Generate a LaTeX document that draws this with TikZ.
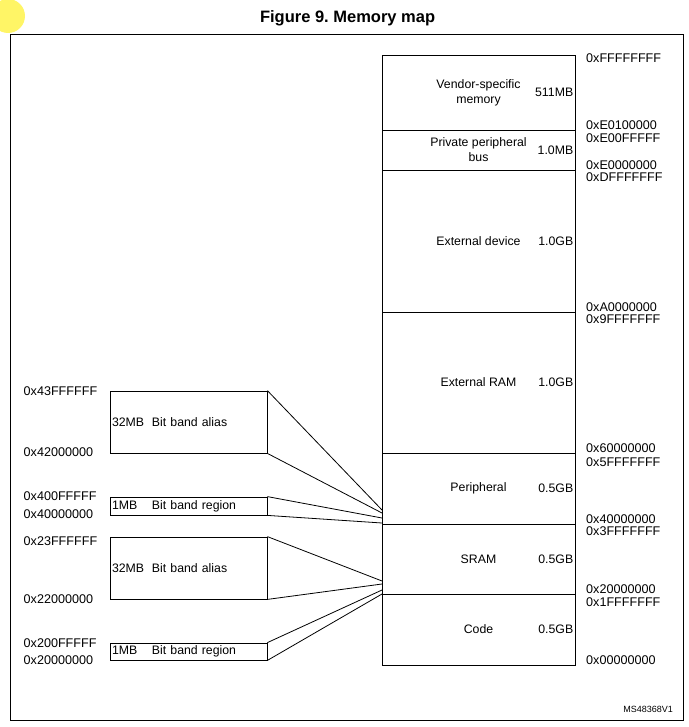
\documentclass[tikz,border=0pt]{standalone}
\usepackage{fontspec}
\setmainfont{Liberation Sans}
\usetikzlibrary{positioning}
\definecolor{HiliteYellow}{rgb}{1.0, 0.96, 0.4}
\frenchspacing

\tikzset{
  memseg/.style={draw, line width=0.8pt, minimum width=193pt, inner sep=0pt},
  seglabel/.style={font=\fontsize{12.3}{15}\selectfont, align=center, inner sep=0pt},
  segsize/.style={font=\fontsize{12.3}{15}\selectfont, anchor=east, inner sep=0pt},
  addr/.style={font=\fontsize{12.6}{15}\selectfont, anchor=west, inner sep=0pt,
               text height=9pt, text depth=0pt},
  bbbox/.style={draw, line width=0.8pt, minimum width=157pt, inner xsep=2pt, inner ysep=0pt,
                text width=153pt, align=left, font=\fontsize{12.3}{15}\selectfont},
  fanline/.style={line width=0.8pt},
}
\newcommand{\memblock}[5]{% name, top, bottom, label, size
  \node[memseg, minimum height={#3-#2}] (#1) at (478.5,{(#2+#3)/2}) {};
  \node[seglabel] (#1-label) at (#1.center) {#4};
  \node[segsize] (#1-size) at ([xshift=-2pt]#1.east) {#5};
}
\newcommand{\bbtext}[2]{\makebox[40pt][l]{#1}#2}% size, text

\begin{document}
\begin{tikzpicture}[x=1pt, y=-1pt]
\useasboundingbox (0,0) rectangle (688,727);
\fill[HiliteYellow] (8,16) circle (17);

\node[font=\fontsize{16.5}{18}\selectfont\bfseries] (title) at (347.6,18) {Figure 9. Memory map};
\draw[line width=0.8pt] (10,34) rectangle (683,720);

% memory column
\memblock{vendor}{55}{130}{Vendor-specific\\memory}{511MB}
\memblock{ppb}{130}{170}{Private peripheral\\bus}{1.0MB}
\memblock{extdev}{170}{312}{External device}{1.0GB}
\memblock{extram}{312}{453}{External RAM}{1.0GB}
\memblock{periph}{453}{524}{Peripheral}{0.5GB}
\memblock{sram}{524}{594}{SRAM}{0.5GB}
\memblock{code}{594}{665}{Code}{0.5GB}

\foreach \txt/\y [count=\i] in {0xFFFFFFFF/58, 0xE0100000/125, 0xE00FFFFF/138,
    0xE0000000/165, 0xDFFFFFFF/177, 0xA0000000/307, 0x9FFFFFFF/319,
    0x60000000/448, 0x5FFFFFFF/462, 0x40000000/519, 0x3FFFFFFF/531,
    0x20000000/589, 0x1FFFFFFF/602, 0x00000000/660}
  \node[addr] (raddr\i) at (586,\y) {\txt};

% bit band boxes
\node[bbbox, minimum height=62pt] (alias1) at (188.5,422) {\bbtext{32MB}{Bit band alias}};
\node[bbbox, minimum height=18pt] (region1) at (188.5,506) {\bbtext{1MB}{Bit band region}};
\node[bbbox, minimum height=62pt] (alias2) at (188.5,568) {\bbtext{32MB}{Bit band alias}};
\node[bbbox, minimum height=17pt] (region2) at (188.5,651.5) {\bbtext{1MB}{Bit band region}};

\foreach \txt/\y [count=\i] in {0x43FFFFFF/391, 0x42000000/452, 0x400FFFFF/496,
    0x40000000/514, 0x23FFFFFF/541, 0x22000000/599, 0x200FFFFF/643, 0x20000000/660}
  \node[addr] (laddr\i) at (23.5,\y) {\txt};

\coordinate (fanA1) at (382,510);
\coordinate (fanA2) at (382,513);
\coordinate (fanA3) at (382,518);
\coordinate (fanA4) at (382,523);
\coordinate (fanB1) at (382,581);
\coordinate (fanB2) at (382,584);
\coordinate (fanB3) at (382,590);
\coordinate (fanB4) at (382,594);

\draw[fanline] (alias1.north east) -- (fanA1);
\draw[fanline] (alias1.south east) -- (fanA2);
\draw[fanline] (region1.north east) -- (fanA3);
\draw[fanline] (region1.south east) -- (fanA4);
\draw[fanline] (alias2.north east) -- (fanB1);
\draw[fanline] (alias2.south east) -- (fanB2);
\draw[fanline] (region2.north east) -- (fanB3);
\draw[fanline] (region2.south east) -- (fanB4);

\node[font=\fontsize{9}{10}\selectfont, anchor=east, inner sep=0pt] (tag) at (673,709) {MS48368V1};
\end{tikzpicture}
\end{document}
